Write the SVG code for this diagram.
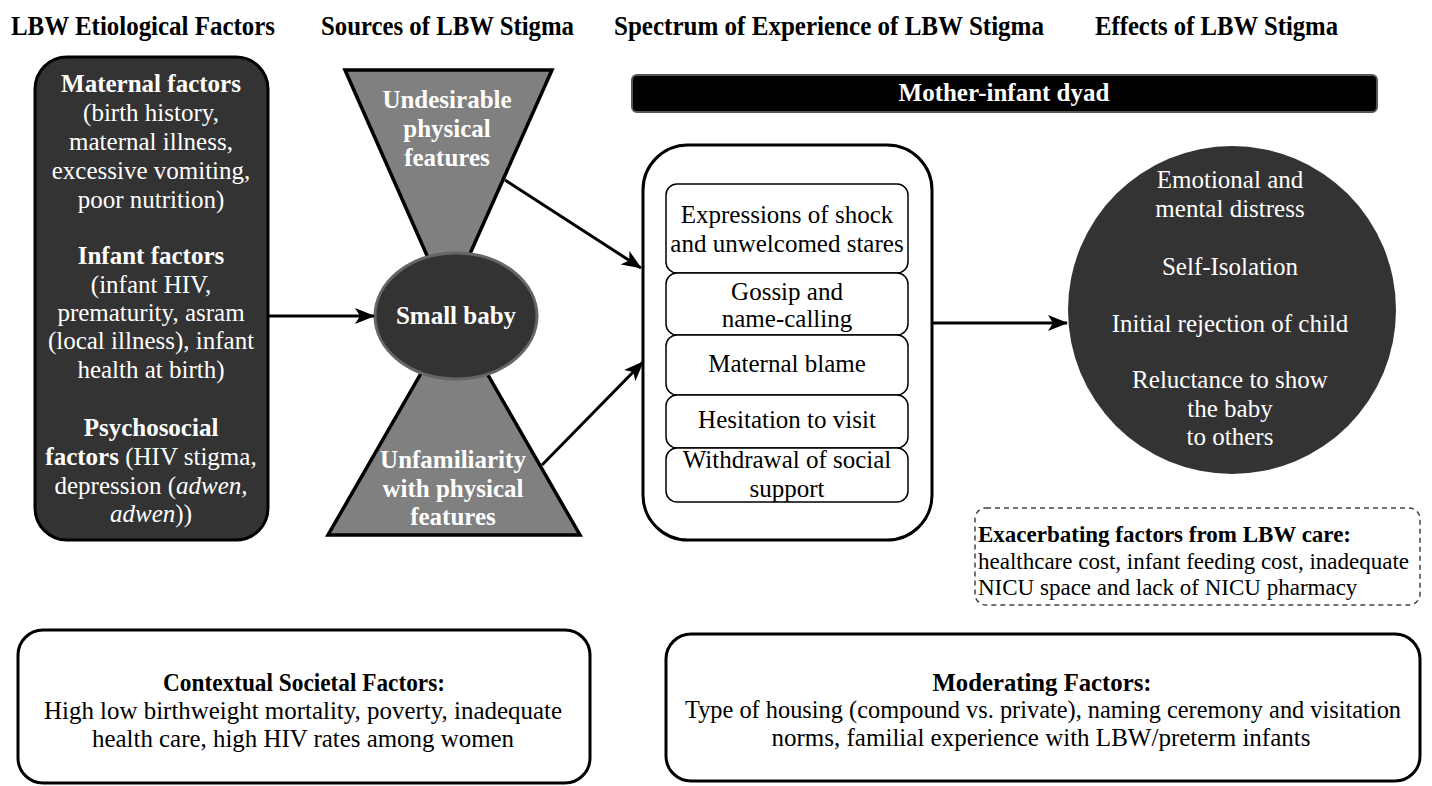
<svg xmlns="http://www.w3.org/2000/svg" width="1432" height="786" viewBox="0 0 1432 786">
<defs>
<marker id="ah" viewBox="0 0 20 16" refX="19" refY="8" markerWidth="20" markerHeight="16" markerUnits="userSpaceOnUse" orient="auto">
<path d="M0,0 L20,8 L0,16 L5,8 z" fill="#000"/>
</marker>
<style>
text{font-family:"Liberation Serif","Times New Roman",serif;}
.hd{font-size:28px;font-weight:bold;fill:#000;}
.w{font-size:25px;fill:#fff;text-anchor:middle;}
.wb{font-size:25px;fill:#fff;font-weight:bold;text-anchor:middle;}
.k{font-size:25px;fill:#000;text-anchor:middle;}
.kb{font-weight:bold;}
.ex{font-size:23px;fill:#000;}
.bt{font-size:26px;fill:#000;text-anchor:middle;}
.dark{fill:#333;stroke:#000;stroke-width:3;}
.tri{fill:#808080;stroke:#000;stroke-width:3.5;stroke-linejoin:miter;}
.box{fill:#fff;stroke:#000;stroke-width:3;}
.inner{fill:#fff;stroke:#000;stroke-width:1.5;}
.conn{stroke:#000;stroke-width:3;fill:none;marker-end:url(#ah);}
</style>
</defs>
<rect width="1432" height="786" fill="#fff"/>

<g id="headers">
<text class="hd" x="11" y="35" textLength="264" lengthAdjust="spacingAndGlyphs">LBW Etiological Factors</text>
<text class="hd" x="321" y="35" textLength="253" lengthAdjust="spacingAndGlyphs">Sources of LBW Stigma</text>
<text class="hd" x="614" y="35" textLength="430" lengthAdjust="spacingAndGlyphs">Spectrum of Experience of LBW Stigma</text>
<text class="hd" x="1095" y="35" textLength="243" lengthAdjust="spacingAndGlyphs">Effects of LBW Stigma</text>
</g>

<g id="etiological">
<rect class="dark" x="35" y="57" width="233" height="483" rx="32"/>
<text class="w" x="151" y="92"><tspan class="kb">Maternal factors</tspan></text>
<text class="w" x="151" y="121">(birth history,</text>
<text class="w" x="151" y="150">maternal illness,</text>
<text class="w" x="151" y="179">excessive vomiting,</text>
<text class="w" x="151" y="208">poor nutrition)</text>
<text class="w" x="151" y="264"><tspan class="kb">Infant factors</tspan></text>
<text class="w" x="151" y="293">(infant HIV,</text>
<text class="w" x="151" y="321">prematurity, asram</text>
<text class="w" x="151" y="349">(local illness), infant</text>
<text class="w" x="151" y="378">health at birth)</text>
<text class="w" x="151" y="436"><tspan class="kb">Psychosocial</tspan></text>
<text class="w" x="151" y="465"><tspan class="kb">factors</tspan> (HIV stigma,</text>
<text class="w" x="151" y="494">depression (<tspan font-style="italic">adwen,</tspan></text>
<text class="w" x="151" y="522"><tspan font-style="italic">adwen</tspan>))</text>
</g>

<g id="undesirable">
<polygon class="tri" points="345,70 552,70 448,303"/>
<text class="wb" x="447" y="108">Undesirable</text>
<text class="wb" x="447" y="137">physical</text>
<text class="wb" x="447" y="166">features</text>
</g>

<g id="unfamiliarity">
<polygon class="tri" points="454,316 580,535 328,535"/>
<text class="wb" x="453" y="468">Unfamiliarity</text>
<text class="wb" x="453" y="497">with physical</text>
<text class="wb" x="453" y="525">features</text>
</g>

<g id="small-baby">
<ellipse cx="456" cy="316" rx="81" ry="63" fill="#333" stroke="#666" stroke-width="3"/>
<text class="wb" x="456" y="324">Small baby</text>
</g>

<g id="dyad">
<rect x="632" y="75" width="745" height="37" rx="5" fill="#000" stroke="#555" stroke-width="2"/>
<text class="wb" x="1004" y="101">Mother-infant dyad</text>
</g>

<g id="spectrum">
<rect class="box" x="643" y="145" width="289" height="395" rx="45"/>
<rect class="inner" x="666" y="184" width="242" height="89" rx="11"/>
<text class="k" x="787" y="223">Expressions of shock</text>
<text class="k" x="787" y="252">and unwelcomed stares</text>
<rect class="inner" x="666" y="273" width="242" height="62" rx="11"/>
<text class="k" x="787" y="300">Gossip and</text>
<text class="k" x="787" y="327">name-calling</text>
<rect class="inner" x="666" y="335" width="242" height="60" rx="11"/>
<text class="k" x="787" y="372">Maternal blame</text>
<rect class="inner" x="666" y="395" width="242" height="53" rx="11"/>
<text class="k" x="787" y="428">Hesitation to visit</text>
<rect class="inner" x="666" y="448" width="242" height="54" rx="11"/>
<text class="k" x="787" y="468">Withdrawal of social</text>
<text class="k" x="787" y="497">support</text>
</g>

<g id="effects">
<circle cx="1232" cy="310" r="164" fill="#333"/>
<text class="w" x="1230" y="188">Emotional and</text>
<text class="w" x="1230" y="217">mental distress</text>
<text class="w" x="1230" y="275">Self-Isolation</text>
<text class="w" x="1230" y="332">Initial rejection of child</text>
<text class="w" x="1230" y="388">Reluctance to show</text>
<text class="w" x="1230" y="417">the baby</text>
<text class="w" x="1230" y="445">to others</text>
</g>

<g id="exacerbating">
<rect x="975" y="508" width="445" height="97" rx="11" fill="#fff" stroke="#444" stroke-width="1.5" stroke-dasharray="5,4"/>
<text class="ex" x="978" y="542" font-weight="bold">Exacerbating factors from LBW care:</text>
<text class="ex" x="978" y="569">healthcare cost, infant feeding cost, inadequate</text>
<text class="ex" x="978" y="595">NICU space and lack of NICU pharmacy</text>
</g>

<g id="contextual">
<rect class="box" x="18" y="630" width="572" height="153" rx="25"/>
<text class="bt" x="304" y="691" font-weight="bold" textLength="282" lengthAdjust="spacingAndGlyphs">Contextual Societal Factors:</text>
<text class="bt" x="303" y="719" textLength="518" lengthAdjust="spacingAndGlyphs">High low birthweight mortality, poverty, inadequate</text>
<text class="bt" x="303" y="747" textLength="422" lengthAdjust="spacingAndGlyphs">health care, high HIV rates among women</text>
</g>

<g id="moderating">
<rect class="box" x="666" y="634" width="754" height="147" rx="25"/>
<text class="bt" x="1042" y="691" font-weight="bold" textLength="219" lengthAdjust="spacingAndGlyphs">Moderating Factors:</text>
<text class="bt" x="1043" y="718" font-size="24" textLength="716" lengthAdjust="spacingAndGlyphs">Type of housing (compound vs. private), naming ceremony and visitation</text>
<text class="bt" x="1041" y="746" textLength="539" lengthAdjust="spacingAndGlyphs">norms, familial experience with LBW/preterm infants</text>
</g>

<g id="connectors">
<line class="conn" x1="268" y1="316" x2="374" y2="316"/>
<line class="conn" x1="505" y1="180" x2="641" y2="268"/>
<line class="conn" x1="542" y1="465" x2="643" y2="362"/>
<line class="conn" x1="933" y1="323" x2="1067" y2="323"/>
</g>
</svg>
